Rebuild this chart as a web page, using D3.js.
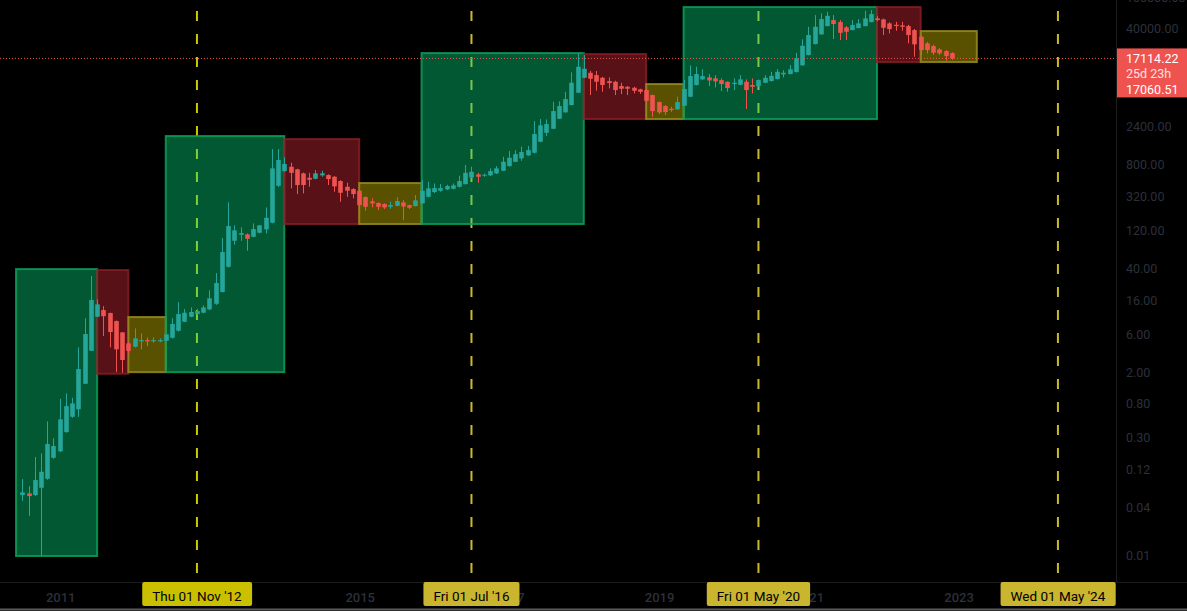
<!DOCTYPE html>
<html><head><meta charset="utf-8">
<script src="https://cdn.jsdelivr.net/npm/d3@7"></script>
<style>html,body{margin:0;padding:0;background:#000;overflow:hidden}svg{display:block}</style>
</head><body><svg id="c" width="1187" height="611"></svg>
<script>
// ---------- DATA ----------
const firstMonth = "2010-07";
const openV = [0.058,0.0609,0.058,0.0716,0.0928,0.170,0.2047,0.357,0.555,0.688,1.438,3.72,9.93,12.05,11.05,8.77,6.33,4.61,4.18,4.89,5.07,4.89,4.89,4.97,5.42,6.63,8.6,9.93,10.73,11.15,12.3,14.45,20.3,42.0,88.9,105.8,107,99.8,112,123.6,149.5,434.6,664,752,698,622,547.6,532,587,592,563.6,497.7,422,395.3,376.7,313.5,277,264,256.4,237,244,268.5,248.5,242,261.6,316,362.4,376.7,391.9,398.7,422,456.4,554,604,580,587,622,670,767,868.5,957.8,1044.5,1126,1547,2005,2250,3003,3611,4457,6357,9797,11310,10580,9797,8905,8730,7714,7560,7345,7014,6871,5946,4861,4330,4006,3937,4368,5664,7940,9354,9911,9630,9166,8730,8168,8006,8730,7940,7714,8481,8905,9435,10800,10900,11540,14010,18860,25890,34250,43510,51730,48840,41910,38780,41090,43510,48840,54340,52790,47020,45170,44400,43510,38780,31970,26420,24440,22220,21150,19970];
const highV = [0.092,0.0751,0.1736,0.193,0.486,0.2977,0.933,1.09,0.96,4.11,9.49,32.1,16.4,13.5,11.2,8.9,6.4,4.8,7.11,6.15,5.48,5.48,5.33,5.98,9.49,15.2,12.4,13.0,12.5,13.8,21.3,35.0,96.2,269,138.7,130.9,110,146.9,139.9,233,1253,1253,985,844,710,635,632,683.8,670,604,575,510,474,405,385,320,302,270,262,274,313.5,287.6,252,332.3,512.3,487.5,465.7,456.4,447.3,465.7,580,790,752,632,620,718,767,1003,1182,1217,1339,1366,2809,2977,2951,4902,4959,6542,11440,19800,18840,11980,11900,10080,9911,9000,8481,7714,7560,7134,6950,6050,4950,4450,4243,5664,9166,14010,13460,12480,10900,10580,9630,8800,9630,10580,9354,9630,9354,10580,11640,12590,12230,14130,20150,29660,42640,59760,62780,65720,59760,51730,43510,51730,53250,67640,69020,58050,54000,48500,49270,49270,45170,40000,33570,27500,25500,23000,21780,20500];
const lowV = [0.0492,0.0319,0.0563,0.0100,0.09,0.165,0.2,0.35,0.54,0.555,1.42,3.7,9.9,5.69,4.11,2.01,1.975,3.4,4.1,3.88,4.27,4.69,4.77,4.9,5.3,6.5,8.5,9.8,10.5,11,12,14,20,41,79.3,88.9,66.7,98,110,110,147,420,650,403,342,349,422,525,563.6,443.6,365.6,274,316,302,245,211,233,215.7,222,224,240,161.6,222,240,258,312,352.2,365.6,385,392,415,450,538,474,563.6,575,610,665,752,860,894,1030,1110,1530,1823,2230,2980,3600,4420,6300,9700,5946,6733,6542,7217,5946,6120,5946,6245,6174,4931,3180,3438,3339,3674,3900,4330,5600,7850,9166,7714,7429,6675,6542,6871,7900,3981,6245,7600,8400,8800,9350,9911,10800,11450,13900,18700,25700,34000,43200,29920,29070,29070,38500,40700,43200,48500,50260,33570,35250,37990,37990,26420,17950,18860,19800,18860,18860,15990,16360];
const closeV = [0.0627,0.0563,0.0894,0.1136,0.2525,0.2384,0.515,0.755,0.817,2.197,6.03,16.08,14.2,10.1,6.39,3.88,2.85,3.72,5.33,5.07,4.89,5.07,5.07,5.98,8.05,10.73,11.15,11.4,11.7,13.0,16.9,26.3,64.2,135.9,120.1,111.1,94.2,124.7,138.7,172.7,718,912,813,632,443.6,443.6,516.9,622,622,527.6,427,355,376.7,342,248.5,237,261.6,237,233,248.5,279.6,238.6,230.5,285,376.7,403,406.6,406.6,430.9,439.6,497.7,632,651,563.6,597,664,718,868.5,974.5,1084,1149,1217,1931,2482,2576,3749,4330,5299,8481,13460,12700,9520,8730,7940,8407,6871,7134,7134,6733,6542,5047,3749,3611,3643,3858,4861,7072,10285,10900,10285,9086,8831,8168,7279,8481,9354,6871,7560,9166,9797,10373,11640,11310,12480,17140,24660,33570,42640,53250,58570,46100,35860,36920,44780,47020,54340,61500,51730,41440,39900,43510,42640,33570,25670,21780,21780,20150,19800,18310,17114.22];

// cycle boxes
const boxStart = ["2010-06","2011-07","2011-12","2012-06","2014-01","2015-01","2015-11","2018-01","2018-11","2019-05","2021-12","2022-07"];
const boxEnd   = ["2011-07","2011-12","2012-06","2014-01","2015-01","2015-11","2018-01","2018-11","2019-05","2021-12","2022-07","2023-04"];
const boxHigh  = [39.3,38.2,9.85,1823,1671,470,19970,19400,8170,75270,75270,37680];
const boxLow   = [0.01,1.92,2.01,2.01,144,144,144,2977,2977,2977,15410,15410];
const boxKind  = ["bull","bear","accum","bull","bear","accum","bull","bear","accum","bull","bear","accum"];

// halvings
const halvingMonths = ["2012-11","2016-07","2020-05","2024-05"];
const halvingLabels = ["Thu 01 Nov '12","Fri 01 Jul '16","Fri 01 May '20","Wed 01 May '24"];

const yTicks = [100000,40000,2400,800,320,120,40,16,6,2,0.8,0.3,0.12,0.04,0.01];
const yearTicks = [2011,2013,2015,2017,2019,2021,2023,2025];

const lastPrice = 17114.22, tagCountdown = "25d 23h", tagSecond = "17060.51";

// ---------- LAYOUT ----------
const W = 1187, H = 611, plotR = 1116, plotB = 582;
const mIndex = s => { const [y,m] = s.split("-").map(Number); return (y-2011)*12 + (m-1); };
const x = d3.scaleLinear().domain([0,144]).range([59.7, 958.1]);
const y = d3.scaleLog().domain([0.01,40000]).range([556,29]);
const f0 = mIndex(firstMonth);
const candles = openV.map((o,i)=>({m:f0+i,o,h:highV[i],l:lowV[i],c:closeV[i]}));

const svg = d3.select("#c");
svg.append("rect").attr("width",W).attr("height",H).attr("fill","#000");
const defs = svg.append("defs");
defs.append("clipPath").attr("id","plot").append("rect").attr("x",0).attr("y",0).attr("width",plotR).attr("height",plotB);
defs.append("clipPath").attr("id","taxis").append("rect").attr("x",0).attr("y",plotB).attr("width",plotR).attr("height",H-plotB);
const plot = svg.append("g").attr("clip-path","url(#plot)");

// halving lines
const lineCol = ["#cdc800","#cdb92a","#cdb92a","#cdb92a"];
halvingMonths.forEach((hm,i)=>{
  plot.append("line").attr("x1",x(mIndex(hm))).attr("x2",x(mIndex(hm)))
    .attr("y1",-12).attr("y2",plotB).attr("stroke",lineCol[i]).attr("stroke-width",2)
    .attr("stroke-dasharray","10,13");
});

// boxes
const boxFill = {bull:"rgba(8,220,130,0.40)", bear:"rgba(150,30,40,0.58)", accum:"rgba(150,135,0,0.60)"};
const boxStroke = {bull:"rgba(10,160,90,0.85)", bear:"rgba(140,30,38,0.8)", accum:"rgba(150,140,30,0.85)"};
boxStart.forEach((s,i)=>{
  const x0 = x(mIndex(s)), x1 = x(mIndex(boxEnd[i]));
  const y0 = y(boxHigh[i]), y1 = y(boxLow[i]);
  plot.append("rect").attr("x",x0).attr("y",y0).attr("width",x1-x0).attr("height",y1-y0)
    .attr("fill",boxFill[boxKind[i]]).attr("stroke",boxStroke[boxKind[i]]).attr("stroke-width",2);
});

// candles
const up = "#26a69a", dn = "#ef5350";
const cg = plot.append("g");
const bw = 4.6;
candles.forEach(d=>{
  const cx = Math.round(x(d.m)) + 0.5;
  const col = d.c >= d.o ? up : dn;
  cg.append("line").attr("x1",cx).attr("x2",cx).attr("y1",y(d.h)).attr("y2",y(d.l)).attr("stroke",col).attr("stroke-width",1);
  const top = y(Math.max(d.o,d.c)), bot = y(Math.min(d.o,d.c));
  cg.append("rect").attr("x",cx-bw/2).attr("y",top).attr("width",bw).attr("height",Math.max(1,bot-top)).attr("fill",col);
});

// last price dotted line
plot.append("line").attr("x1",0).attr("x2",plotR).attr("y1",y(lastPrice)).attr("y2",y(lastPrice))
  .attr("stroke","#ef5350").attr("stroke-width",1).attr("stroke-dasharray","1,2");

// separators
svg.append("line").attr("x1",plotR+0.5).attr("x2",plotR+0.5).attr("y1",0).attr("y2",plotB).attr("stroke","#1c1c1c");
svg.append("line").attr("x1",0).attr("x2",W).attr("y1",plotB+0.5).attr("y2",plotB+0.5).attr("stroke","#1c1c1c");
svg.append("line").attr("x1",0).attr("x2",W).attr("y1",H-1.5).attr("y2",H-1.5).attr("stroke","#5a5a5a").attr("stroke-width",2);

const font = "Roboto, 'Liberation Sans', sans-serif";
const dim = "#2c303b";
// right axis
const fmt = d3.format(".2f");
svg.append("g").selectAll("text").data(yTicks).join("text")
  .attr("x",1126).attr("y",d=>y(d)).attr("dy","0.35em")
  .attr("font-family",font).attr("font-size",12.5).attr("fill",dim).text(d=>fmt(d));

// price tag
const ty = y(lastPrice);
svg.append("rect").attr("x",plotR+1).attr("y",ty-10).attr("width",W-plotR-1).attr("height",49).attr("fill","#ef5350");
svg.append("text").attr("x",1126).attr("y",ty).attr("dy","0.35em").attr("font-family",font).attr("font-size",12.5).attr("fill","#fff").text(d3.format(".2f")(lastPrice));
svg.append("text").attr("x",1126).attr("y",ty+15).attr("dy","0.35em").attr("font-family",font).attr("font-size",12.5).attr("fill","rgba(255,255,255,0.85)").text(tagCountdown);
svg.append("text").attr("x",1126).attr("y",ty+31.5).attr("dy","0.35em").attr("font-family",font).attr("font-size",12.5).attr("fill","#fff").text(tagSecond);

// bottom axis: years and halving labels, clipped to the time-axis strip
const tax = svg.append("g").attr("clip-path","url(#taxis)");
tax.selectAll("text.yr").data(yearTicks).join("text").attr("class","yr")
  .attr("x",d=>x((d-2011)*12)+1).attr("y",597).attr("dy","0.35em").attr("text-anchor","middle")
  .attr("font-family",font).attr("font-size",13).attr("font-weight",500).attr("fill",dim).text(d=>d);

const labCol = ["#cbc000","#cab52f","#cab52f","#cab52f"];
halvingMonths.forEach((hm,i)=>{
  const cx = x(mIndex(hm));
  const g = svg.append("g");
  const r = g.append("rect");
  const t = g.append("text").attr("x",cx).attr("y",596).attr("dy","0.35em").attr("text-anchor","middle")
    .attr("font-family",font).attr("font-size",13.5).attr("fill","#000").text(halvingLabels[i]);
  const bb = t.node().getBBox();
  r.attr("x",bb.x-10).attr("y",582).attr("width",bb.width+20).attr("height",24).attr("rx",2).attr("fill",labCol[i]);
});
</script></body></html>
